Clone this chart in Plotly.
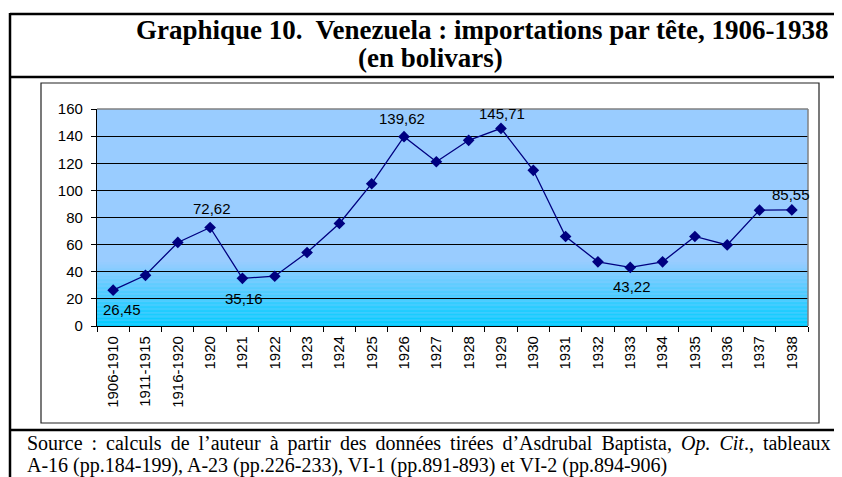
import plotly.graph_objects as go

# Importations par tête (bolivars)
periodes = ['1906-1910', '1911-1915', '1916-1920', '1920', '1921', '1922', '1923',
            '1924', '1925', '1926', '1927', '1928', '1929', '1930', '1931', '1932',
            '1933', '1934', '1935', '1936', '1937', '1938']
valeurs = [26.45, 37.4, 61.6, 72.62, 35.16, 36.7, 54.2, 75.6, 104.9, 139.62, 121.1,
           136.9, 145.71, 114.8, 66.0, 47.3, 43.22, 47.3, 66.0, 59.8, 85.4, 85.55]
# points étiquetés -> décalage de l'étiquette (px)
etiquettes = {'1906-1910': (9, -19), '1920': (2, 19), '1921': (2, -20),
              '1926': (-2, 18), '1929': (1, 15), '1933': (2, -19), '1938': (-1, 15)}

NAVY = '#000080'
OFF = 8                      # marge du body html
W, H = 842 - OFF, 477 - OFF
L, R, T, B = 97 - OFF, 842 - 808, 109 - OFF, 477 - 326


def px(x):
    return (x - OFF - L) / (W - L - R)


def py(y):
    return (H - B - (y - OFF)) / (H - T - B)


fig = go.Figure()
fig.add_trace(go.Scatter(
    x=periodes,
    y=valeurs,
    mode='lines+markers',
    line=dict(color=NAVY, width=1.3),
    marker=dict(symbol='diamond', size=9, color=NAVY),
    showlegend=False
))

annotations = []
for i, (p, v) in enumerate(zip(periodes, valeurs)):
    if p in etiquettes:
        dx, dy = etiquettes[p]
        # position par indice de catégorie (les libellés numériques seraient pris pour des indices)
        annotations.append(dict(
            x=i, y=v, xref='x', yref='y', text=f"{v:.2f}".replace('.', ','),
            showarrow=False, xshift=dx, yshift=dy,
            font=dict(family='Liberation Sans, Arial', size=15, color='black')))

shapes = []
# dégradé du fond (bas cyan -> bleu clair)
haut, n = 48, 48
for k in range(n):
    t = k / (n - 1)
    r = int(153 * t)
    shapes.append(dict(type='rect', xref='paper', yref='y', x0=0, x1=1,
                       y0=haut * k / n, y1=haut * (k + 1) / n,
                       fillcolor=f'rgb({r},204,255)', line=dict(width=0), layer='below'))

# bordure haute et droite de la zone de tracé
shapes.append(dict(type='line', xref='paper', yref='paper', x0=0, x1=1, y0=1, y1=1,
                   line=dict(color='#808080', width=1.5)))
shapes.append(dict(type='line', xref='paper', yref='paper', x0=1, x1=1, y0=0, y1=1,
                   line=dict(color='#808080', width=1.5)))


# cadre du document
def ligne(x0, y0, x1, y1, w=2.5, c='black'):
    shapes.append(dict(type='line', xref='paper', yref='paper',
                       x0=px(x0), y0=py(y0), x1=px(x1), y1=py(y1),
                       line=dict(color=c, width=w)))


ligne(10, 14, 850, 14)
ligne(10, 13, 10, 485)
ligne(10, 77, 850, 77)
ligne(10, 430, 850, 430)
shapes.append(dict(type='rect', xref='paper', yref='paper',
                   x0=px(41), y0=py(83), x1=px(819), y1=py(423),
                   line=dict(color='#222222', width=1.2)))

serif = 'Liberation Serif, Times New Roman'
source1 = ("Source : calculs de l’auteur à partir des données tirées d’Asdrubal Baptista, "
           "<i>Op. Cit</i>., tableaux").replace(' ', ' \u2009')
source2 = 'A-16 (pp.184-199), A-23 (pp.226-233), VI-1 (pp.891-893) et VI-2 (pp.894-906)'
textes = [
    dict(text='<b>Graphique 10.  Venezuela : importations par tête, 1906-1938</b>',
         x=px(481.5), y=py(30), font=dict(family=serif, size=27, color='black')),
    dict(text='<b>(en bolivars)</b>',
         x=px(430), y=py(58), font=dict(family=serif, size=27, color='black')),
    dict(text=source1, x=px(25), y=py(443), xanchor='left',
         font=dict(family=serif, size=20, color='black')),
    dict(text=source2, x=px(25), y=py(465), xanchor='left',
         font=dict(family=serif, size=20, color='black')),
]
for a in textes:
    a.update(xref='paper', yref='paper', showarrow=False, yanchor='middle',
             xanchor=a.get('xanchor', 'center'))
annotations += textes

fig.update_layout(
    width=W, height=H,
    margin=dict(l=L, r=R, t=T, b=B, autoexpand=False),
    paper_bgcolor='white',
    plot_bgcolor='rgb(153,204,255)',
    font=dict(family='Liberation Sans, Arial', size=15, color='black'),
    shapes=shapes,
    annotations=annotations,
    xaxis=dict(type='category', range=[-0.5, len(periodes) - 0.5], tickangle=-90,
               tickson='boundaries', ticks='outside', ticklen=5, tickcolor='black',
               showgrid=False, showline=True, linecolor='black', linewidth=1.2,
               ticklabelstandoff=3, tickfont=dict(size=15)),
    yaxis=dict(range=[0, 160], dtick=20, ticks='outside', ticklen=5, tickcolor='black',
               showgrid=True, gridcolor='black', gridwidth=1, showline=True,
               linecolor='black', linewidth=1.2, zeroline=False,
               ticklabelstandoff=5, tickfont=dict(size=15)),
)

fig.write_html('out.html')
